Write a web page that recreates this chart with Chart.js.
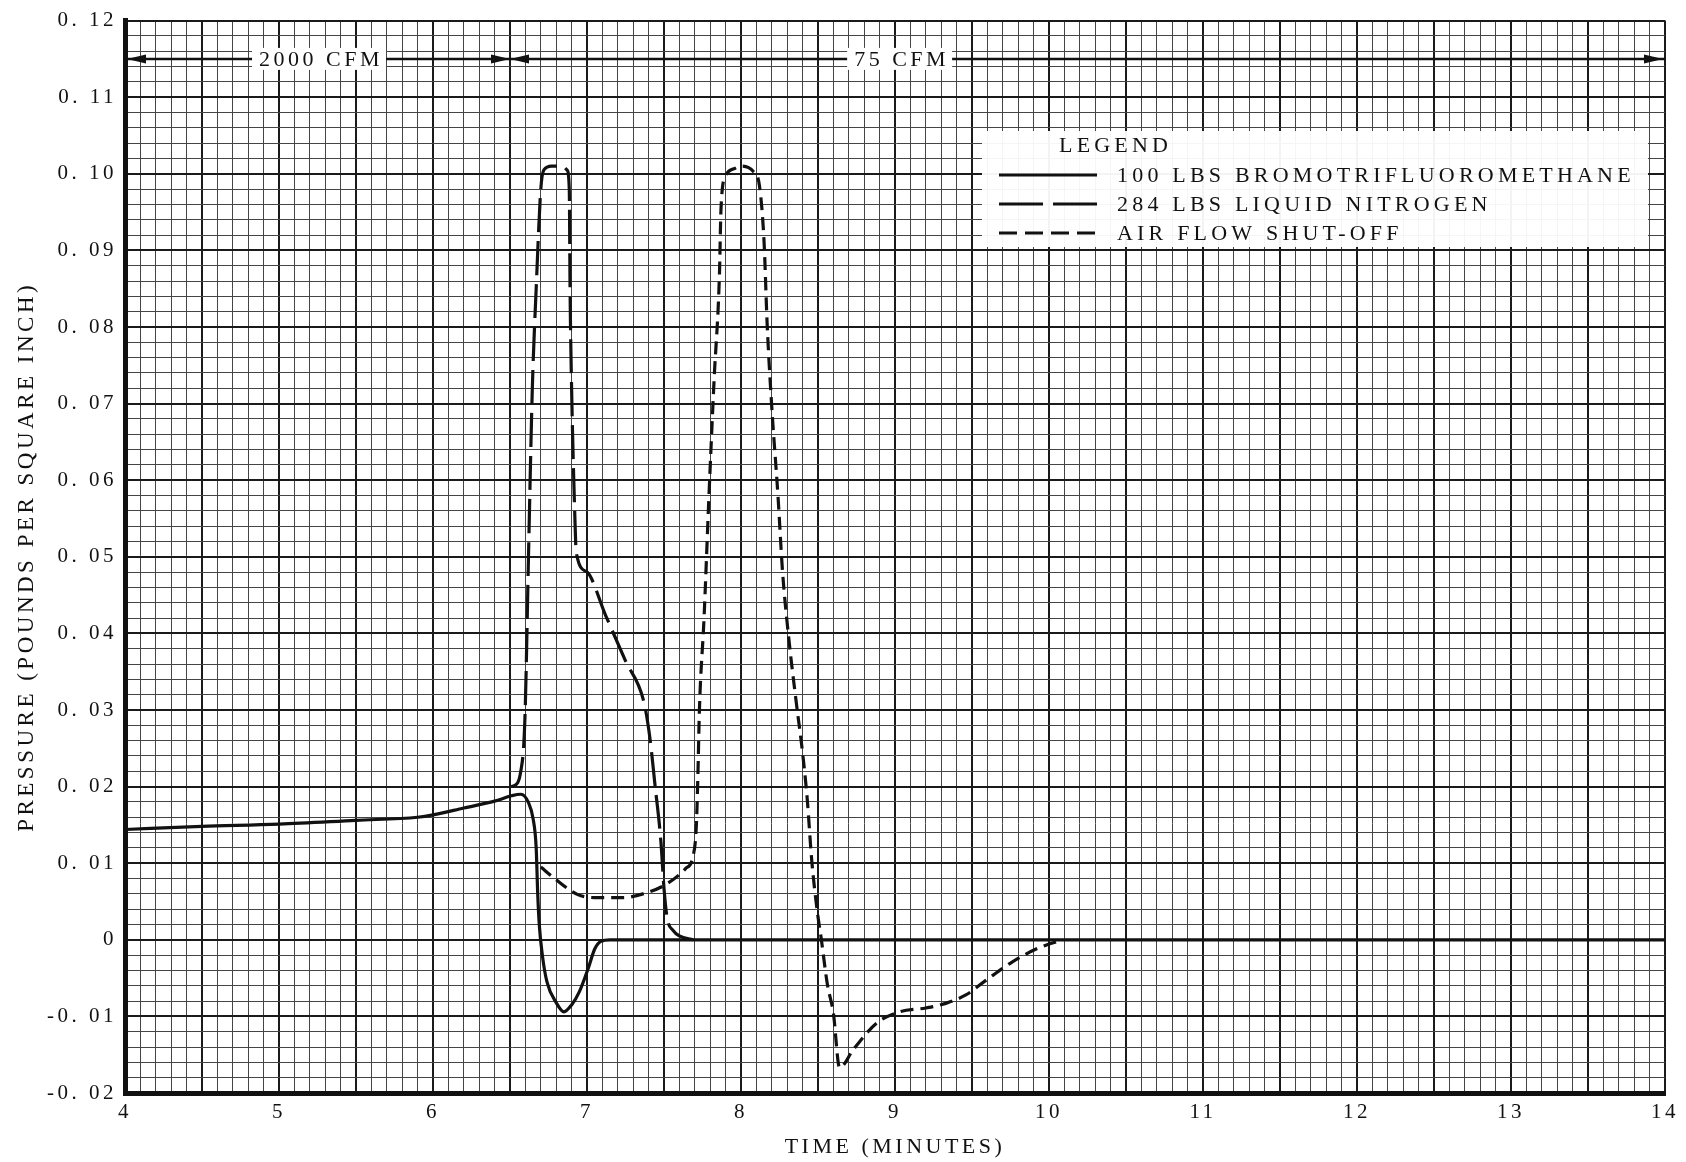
<!DOCTYPE html>
<html>
<head>
<meta charset="utf-8">
<script src="https://cdn.jsdelivr.net/npm/chart.js@4.4.1/dist/chart.umd.min.js"></script>
<style>
  html, body { margin: 0; padding: 0; background: #fff; }
  #wrap { width: 1686px; height: 1162px; }
</style>
</head>
<body>
<div id="wrap"><canvas id="chart"></canvas></div>
<script>
/* =========================
   DATA
   ========================= */
const bromoTime = [4.0, 4.5, 5.0, 5.5, 5.9, 6.0, 6.2, 6.4, 6.51, 6.57, 6.62, 6.65, 6.67, 6.68, 6.69, 6.71,
  6.74, 6.80, 6.85, 6.90, 6.95, 7.01, 7.05, 7.09, 7.15, 14.0];
const bromoPressure = [0.0144, 0.0148, 0.0151, 0.0156, 0.0160, 0.0163, 0.0172, 0.0181, 0.0188, 0.0190, 0.0179,
  0.0158, 0.0120, 0.0060, 0.0020, -0.0020, -0.0055, -0.0082, -0.0094, -0.0085, -0.0068, -0.0036, -0.0012,
  -0.0002, 0.0, 0.0];

const nitroTime = [6.51, 6.55, 6.57, 6.59, 6.60, 6.62, 6.645, 6.67, 6.70, 6.72, 6.77, 6.84, 6.87, 6.885,
  6.89, 6.90, 6.92, 6.93, 7.0, 7.12, 7.25, 7.37, 7.41, 7.44, 7.48, 7.50, 7.52, 7.56, 7.60, 7.69];
const nitroPressure = [0.0200, 0.0205, 0.0220, 0.0257, 0.0310, 0.0500, 0.0720, 0.0850, 0.0980, 0.1005, 0.1010,
  0.1010, 0.1005, 0.0980, 0.0850, 0.0720, 0.0560, 0.0506, 0.0480, 0.0424, 0.0364, 0.0310, 0.0261, 0.0205,
  0.0128, 0.0067, 0.0029, 0.0012, 0.0005, 0.0];

const airTime = [6.70, 6.79, 6.94, 7.08, 7.23, 7.38, 7.51, 7.64, 7.69, 7.71, 7.72, 7.73, 7.76, 7.79, 7.825,
  7.86, 7.87, 7.90, 7.96, 8.00, 8.08, 8.12, 8.15, 8.17, 8.20, 8.24, 8.27, 8.31, 8.36, 8.40, 8.43, 8.46,
  8.50, 8.52, 8.56, 8.60, 8.64, 8.73, 8.88, 9.03, 9.20, 9.33, 9.46, 9.59, 9.76, 9.94, 10.09];
const airPressure = [0.0095, 0.0080, 0.0059, 0.0055, 0.0055, 0.0061, 0.0072, 0.0093, 0.0110, 0.0149, 0.0214,
  0.0300, 0.0420, 0.0570, 0.0730, 0.0868, 0.0954, 0.0997, 0.1007, 0.1010, 0.1003, 0.0984, 0.0910, 0.0803,
  0.0695, 0.0580, 0.0480, 0.0394, 0.0308, 0.0244, 0.0184, 0.0102, 0.0030, 0.0003, -0.0057, -0.0096,
  -0.0167, -0.0143, -0.0109, -0.0094, -0.0089, -0.0083, -0.0072, -0.0053, -0.0029, -0.0010, 0.0];

const seriesLabels = ["100 LBS BROMOTRIFLUOROMETHANE", "284 LBS LIQUID NITROGEN", "AIR FLOW SHUT-OFF"];

// air flow bands drawn at the top of the chart
const flowLabels = ["2000 CFM", "75 CFM"];
const flowLabelTime = [5.26, 9.03];
const flowBreaks = [4, 6.5, 14];
const flowLevel = 0.115;

const FONT = '"Liberation Serif", "Times New Roman", serif';
const INK = '#111';

const pts = (xs, ys) => xs.map((x, i) => ({ x, y: ys[i] }));
const isMultiple = (v, step) => Math.abs(Math.round(v / step) * step - v) < step * 1e-4;

function fmtPressure(v) {
  if (Math.abs(v) < 1e-9) return '0';
  return (v < 0 ? '-' : '') + Math.abs(v).toFixed(2).replace('.', '. ');
}

/* =========================
   PLUGINS
   ========================= */
const spacingPlugin = {
  id: 'spacing',
  beforeDraw(chart) { chart.ctx.letterSpacing = '3.5px'; }
};

function arrowHead(ctx, tipX, y, dir) {
  ctx.beginPath();
  ctx.moveTo(tipX, y);
  ctx.lineTo(tipX - dir * 19, y - 4.5);
  ctx.lineTo(tipX - dir * 19, y + 4.5);
  ctx.closePath();
  ctx.fill();
}

const flowPlugin = {
  id: 'flow',
  afterDraw(chart) {
    const { ctx, scales: { x, y } } = chart;
    const py = y.getPixelForValue(flowLevel);
    const [x0, x1, x2] = flowBreaks.map(v => x.getPixelForValue(v));
    ctx.save();
    ctx.strokeStyle = INK;
    ctx.fillStyle = INK;
    ctx.lineWidth = 2.5;
    ctx.beginPath();
    ctx.moveTo(x0, py);
    ctx.lineTo(x2, py);
    ctx.stroke();
    arrowHead(ctx, x0 + 2, py, -1);
    arrowHead(ctx, x1, py, 1);
    arrowHead(ctx, x1, py, -1);
    arrowHead(ctx, x2 - 2, py, 1);

    ctx.font = '22px ' + FONT;
    ctx.letterSpacing = '3.5px';
    ctx.textAlign = 'center';
    ctx.textBaseline = 'middle';
    flowLabels.forEach((t, i) => {
      const cx = x.getPixelForValue(flowLabelTime[i]);
      const w = ctx.measureText(t).width + 10;
      ctx.fillStyle = '#fff';
      ctx.fillRect(cx - w / 2, py - 11, w, 22);
      ctx.fillStyle = INK;
      ctx.fillText(t, cx + 2, py + 1);
    });
    ctx.restore();
  }
};

const legendPlugin = {
  id: 'paperLegend',
  afterDraw(chart) {
    const ctx = chart.ctx;
    ctx.save();
    ctx.fillStyle = 'rgba(255,255,255,0.95)';
    ctx.fillRect(982, 131, 666, 116);
    ctx.font = '22px ' + FONT;
    ctx.letterSpacing = '4.2px';
    ctx.textBaseline = 'middle';
    ctx.fillStyle = INK;
    ctx.fillText('LEGEND', 1059, 146);
    chart.data.datasets.forEach((ds, i) => {
      const ry = 175 + i * 29;
      ctx.strokeStyle = ds.borderColor;
      ctx.lineWidth = ds.borderWidth;
      ctx.setLineDash(ds.legendDash);
      ctx.beginPath();
      ctx.moveTo(999, ry);
      ctx.lineTo(1097, ry);
      ctx.stroke();
      ctx.setLineDash([]);
      ctx.fillText(ds.label, 1117, ry + 1);
    });
    ctx.restore();
  }
};

/* =========================
   CHART
   ========================= */
const lineStyle = {
  borderColor: INK,
  borderWidth: 3.2,
  pointRadius: 0,
  fill: false,
  cubicInterpolationMode: 'monotone'
};

new Chart(document.getElementById('chart'), {
  type: 'line',
  data: {
    datasets: [
      { ...lineStyle, label: seriesLabels[0], data: pts(bromoTime, bromoPressure), borderDash: [], legendDash: [] },
      { ...lineStyle, label: seriesLabels[1], data: pts(nitroTime, nitroPressure), borderDash: [34, 9], legendDash: [44, 10] },
      { ...lineStyle, label: seriesLabels[2], data: pts(airTime, airPressure), borderDash: [13, 7], legendDash: [18, 8] }
    ]
  },
  options: {
    responsive: true,
    maintainAspectRatio: false,
    animation: false,
    layout: { padding: { top: 13, right: 21, left: 0, bottom: 0 } },
    plugins: { legend: { display: false }, tooltip: { enabled: false } },
    scales: {
      x: {
        type: 'linear',
        min: 4, max: 14,
        afterFit(s) { s.height = 69; },
        ticks: {
          stepSize: 0.1, autoSkip: false, maxTicksLimit: 1000, maxRotation: 0, minRotation: 0,
          padding: 7, color: INK, font: { family: FONT, size: 21 },
          callback: v => isMultiple(v, 1) ? String(Math.round(v)) : ''
        },
        grid: {
          drawTicks: false,
          color: c => isMultiple(c.tick.value, 0.5) ? '#1a1a1a' : '#444',
          lineWidth: c => isMultiple(c.tick.value, 0.5) ? 2 : 1
        },
        border: { width: 5, color: INK },
        title: {
          display: true, text: 'TIME (MINUTES)', color: INK,
          font: { family: FONT, size: 22 }, padding: { top: 0, bottom: 2 }
        }
      },
      y: {
        type: 'linear',
        min: -0.02, max: 0.12,
        afterFit(s) { s.width = 125; },
        ticks: {
          stepSize: 0.002, autoSkip: false, maxTicksLimit: 1000,
          padding: 8, color: INK, font: { family: FONT, size: 21 },
          callback: v => isMultiple(v, 0.01) ? fmtPressure(v) : ''
        },
        grid: {
          drawTicks: false,
          color: c => isMultiple(c.tick.value, 0.01) ? '#1a1a1a' : '#444',
          lineWidth: c => isMultiple(c.tick.value, 0.01) ? 2 : 1
        },
        border: { width: 5, color: INK },
        title: {
          display: true, text: 'PRESSURE (POUNDS PER SQUARE INCH)', color: INK,
          font: { family: FONT, size: 23 }, padding: { top: 13, bottom: 0 }
        }
      }
    }
  },
  plugins: [spacingPlugin, flowPlugin, legendPlugin]
});
</script>
</body>
</html>
